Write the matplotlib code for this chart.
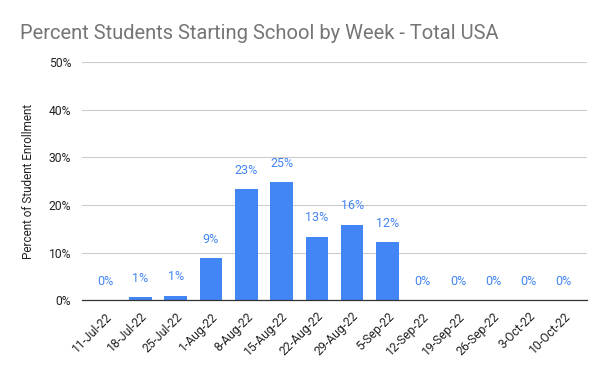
import matplotlib.pyplot as plt
from matplotlib.ticker import FuncFormatter

weeks = ["11-Jul-22", "18-Jul-22", "25-Jul-22", "1-Aug-22", "8-Aug-22", "15-Aug-22",
         "22-Aug-22", "29-Aug-22", "5-Sep-22", "12-Sep-22", "19-Sep-22", "26-Sep-22",
         "3-Oct-22", "10-Oct-22"]
pct_students = [0.0, 0.6, 0.9, 8.8, 23.3, 24.8, 13.3, 15.8, 12.2, 0.0, 0.0, 0.0, 0.0, 0.0]
y_ticks = [0, 10, 20, 30, 40, 50]

plt.rcParams['font.family'] = ['Roboto', 'DejaVu Sans']

fig = plt.figure(figsize=(6, 3.71), dpi=100)
ax = fig.add_axes([0.137, 0.191, 0.841, 0.642])

x = range(len(weeks))
bars = ax.bar(x, pct_students, width=0.64, color="#4285f4", zorder=3)

# data labels above each bar
for i, v in enumerate(pct_students):
    ax.annotate(f"{v:.0f}%", (i, v), xytext=(0, 9), textcoords="offset points",
                ha="center", va="bottom", fontsize=9, color="#4285f4")

ax.set_ylim(0, 50)
ax.set_xlim(-0.65, len(weeks) - 0.35)
ax.set_yticks(y_ticks)
ax.yaxis.set_major_formatter(FuncFormatter(lambda v, p: f"{v:.0f}%"))
ax.set_xticks(list(x))
ax.set_xticklabels(weeks, rotation=45, ha="right", rotation_mode="anchor")

ax.grid(axis="y", color="#cccccc", linewidth=0.8, zorder=0)
for s in ["top", "right", "left"]:
    ax.spines[s].set_visible(False)
ax.spines["bottom"].set_color("#333333")
ax.spines["bottom"].set_linewidth(0.9)
ax.spines["bottom"].set_zorder(4)
ax.tick_params(axis="both", length=0, labelsize=8.7, labelcolor="#222222")
ax.tick_params(axis="y", pad=8)
ax.tick_params(axis="x", pad=7)

ax.set_ylabel("Percent of Student Enrollment", fontsize=8.5, color="#222222", labelpad=10)

fig.text(0.033, 0.91, "Percent Students Starting School by Week - Total USA",
         fontsize=14.5, color="#757575", ha="left", va="center")

fig.savefig("out.png", dpi=100)
